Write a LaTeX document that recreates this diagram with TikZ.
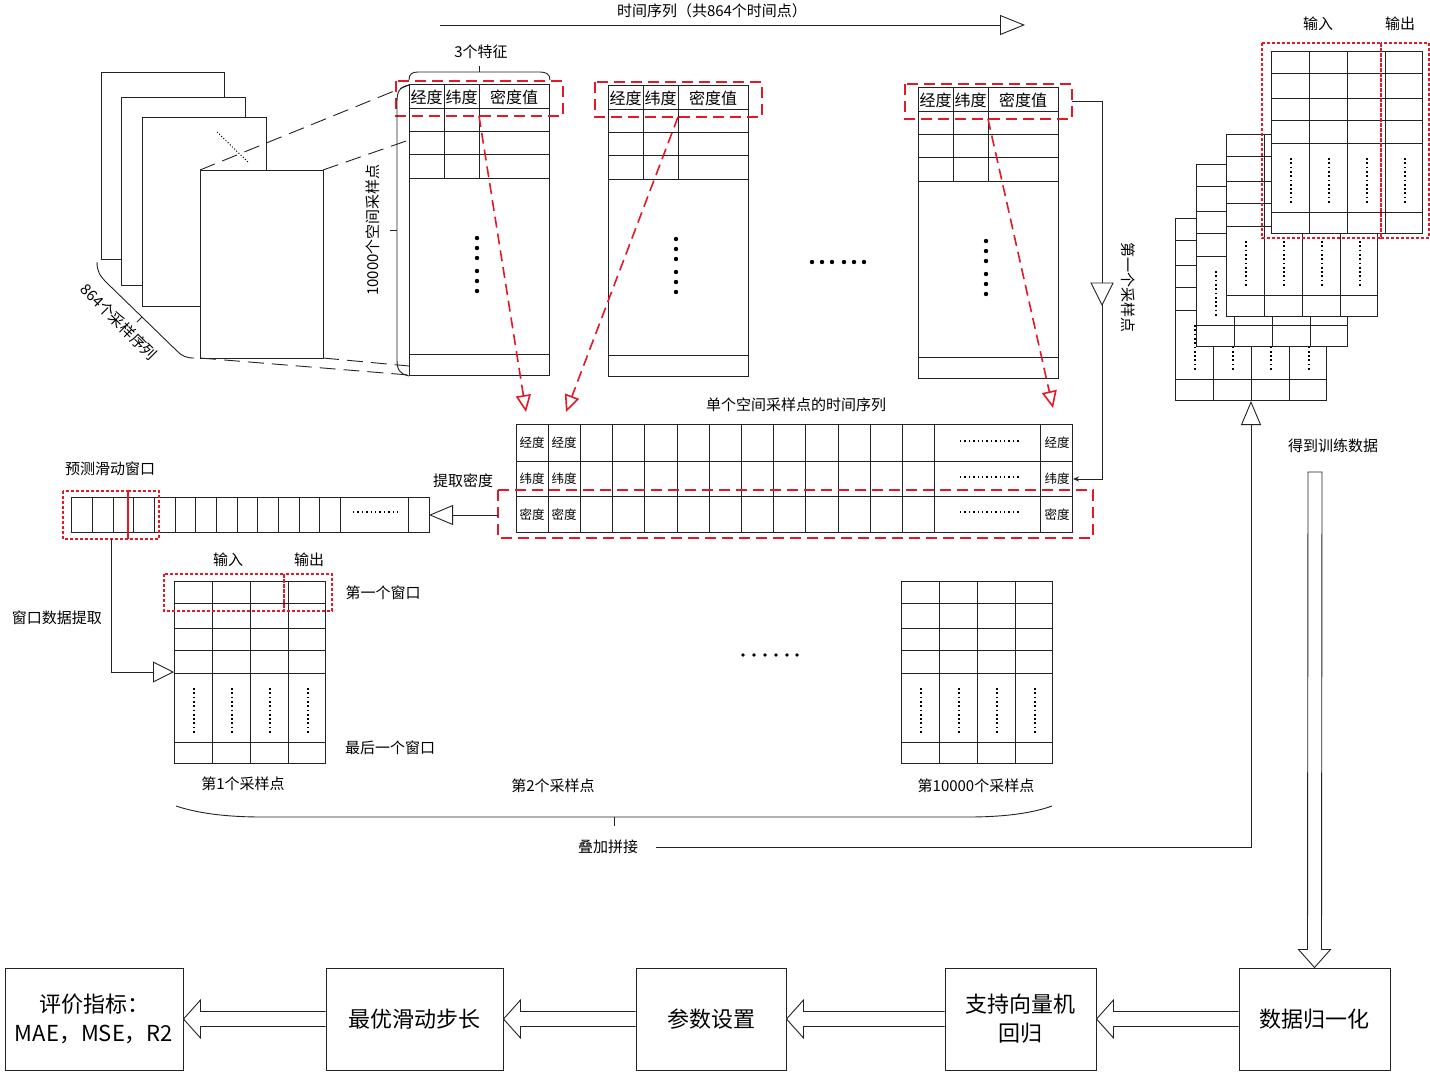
\documentclass[tikz,border=0pt]{standalone}
\usepackage{fontspec}
\setmainfont{Noto Sans CJK SC}
\usetikzlibrary{arrows.meta,calc}
\definecolor{rd}{RGB}{225,25,40}
\definecolor{ln}{RGB}{35,35,35}
\tikzset{
 tl/.style={draw=ln, line width=0.9pt},
 lbl/.style={inner sep=0pt, font=\fontsize{15}{18}\selectfont},
 hd/.style={inner sep=0pt, font=\fontsize{16}{18}\selectfont},
 sm/.style={inner sep=0pt, font=\fontsize{12.5}{14}\selectfont},
 big/.style={draw=ln, line width=1pt, fill=white, inner sep=0pt, font=\fontsize{22}{29}\selectfont, align=center, minimum height=102pt},
 rdash/.style={draw=rd, line width=1.8pt, dash pattern=on 11pt off 6pt},
 rdot/.style={draw=rd, line width=1.5pt, dash pattern=on 3pt off 2pt},
 gdash/.style={draw=ln, line width=0.9pt, dash pattern=on 16pt off 8pt},
 otri/.style={-{Triangle[open,length=24pt,width=20pt]}},
 rarrow/.style={rdash, line width=1.6pt, -{Triangle[open,length=17pt,width=15pt]}},
 vdot/.style={draw=black, line width=1.7pt, dash pattern=on 1.7pt off 2.6pt},
 hdot/.style={draw=black, line width=1.4pt, dash pattern=on 1.4pt off 3pt},
}
\newcommand{\wtab}[3]{%
\begin{scope}[shift={(#1,#2)}]
\coordinate (#3) at (0,0);
\coordinate (#3-s) at (76,182);
\draw[tl,fill=white] (0,0) rectangle (151,182);
\foreach \yy in {22,47,69,92,161}{\draw[tl] (0,\yy)--(151,\yy);}
\foreach \xx in {38,76,114}{\draw[tl] (\xx,0)--(\xx,182);}
\foreach \xx in {20,58,96,134}{\draw[vdot] (\xx,107)--(\xx,152);}
\end{scope}}
\newcommand{\ttab}[3]{%
\begin{scope}[shift={(#1,#2)}]
\coordinate (#3) at (0,0);
\coordinate (#3-r) at (70,32);
\coordinate (#3-e) at (154,14.5);
\draw[tl] (0,0) rectangle (140,291);
\foreach \yy in {24,47,70,94,270}{\draw[tl] (0,\yy)--(140,\yy);}
\draw[tl] (35,0)--(35,94) (70,0)--(70,94);
\node[hd] (#3-a) at (17.5,13) {经度};
\node[hd] (#3-b) at (52.5,13) {纬度};
\node[hd] (#3-c) at (105,13) {密度值};
\foreach \yy in {154,164,174,187,197,207}{\fill (68,\yy) circle (2.2pt);}
\draw[rdash] (-13,-3) rectangle (154,32);
\end{scope}}
\newcommand{\harrow}[2]{%
\draw[tl, fill=white] let \p1=(#1.west), \p2=(#2.east) in
 (\x1,\y1+7.5pt) -- (\x2+17pt,\y1+7.5pt) -- (\x2+17pt,\y1+19pt) -- (\x2,\y1) -- (\x2+17pt,\y1-19pt) -- (\x2+17pt,\y1-7.5pt) -- (\x1,\y1-7.5pt);}
\begin{document}
\begin{tikzpicture}[x=1pt,y=-1pt]
\useasboundingbox (0,0) rectangle (1430,1072);
\fill[white] (0,0) rectangle (1430,1072);

% ---- top time arrow
\coordinate (ta) at (440,25);
\coordinate (tb) at (1025,25);
\draw[tl, -{Triangle[open,length=25pt,width=20pt]}] (ta) -- (tb);
\node[lbl] (tt) at (712,11) {时间序列（共864个时间点）};

% ---- page stack
\draw[tl,fill=white] (101,72) rectangle (224,259);
\draw[tl,fill=white] (121,97) rectangle (245,285);
\draw[tl,fill=white] (142,117) rectangle (266,306);
\draw[black, line width=1pt, dotted] (217,132) -- (249,163);
\draw[tl,fill=white] (200,170) rectangle (323,358);
\coordinate (pA) at (200,170);
\coordinate (pB) at (323,170);
\coordinate (pC) at (200,358);
\coordinate (pD) at (323,358);
\draw[tl] (97,262) .. controls (97,272) and (100,276) .. (107,283) -- (177,351) .. controls (182,356) and (186,358) .. (194,358);
\draw[tl] (142,317) -- (137,322);
\node[lbl, rotate=-45] (n864) at (119,322) {864个采样序列};

% ---- tall tables
\ttab{409}{84}{T1}
\ttab{608}{85}{T2}
\ttab{918}{87}{T3}
\draw[gdash] (pA) -- (409,85);
\draw[gdash] (pB) -- (409,140);
\draw[gdash] (pC) -- (409,375);
\draw[gdash] (pD) -- (409,366);
% brace left
\draw[tl] (409,85) .. controls (399,87) and (397,92) .. (397,102) -- (397,360) .. controls (397,370) and (400,374) .. (409,376);
\draw[tl] (397,230) -- (390,230);
\node[lbl, rotate=90] (n10000) at (373,230) {10000个空间采样点};
% brace top
\draw[tl] (409,80) .. controls (409,74) and (412,72) .. (418,72) -- (540,72) .. controls (546,72) and (550,74) .. (550,80);
\draw[tl] (479,72) -- (479,66);
\node[lbl] (n3) at (481,52) {3个特征};
% dots between
\foreach \xx in {812,822,832,844,854,864}{\fill (\xx,262) circle (2.2pt);}

% ---- long table
\node[lbl] (nts) at (796,405) {单个空间采样点的时间序列};
\draw[tl] (516,424) rectangle (1072,532);
\draw[tl] (516,461) -- (1072,461) (516,496) -- (1072,496);
\foreach \i in {1,...,13}{\draw[tl] ({516+32.2*\i},424) -- ++(0,108);}
\draw[tl] (1040,424) -- (1040,532);
\foreach \cx in {532,564}{
 \node[sm] at (\cx,443) {经度};
 \node[sm] at (\cx,479) {纬度};
 \node[sm] at (\cx,515) {密度};}
\node[sm] (L1) at (1057,443) {经度};
\node[sm] (L2) at (1057,479) {纬度};
\node[sm] (L3) at (1057,515) {密度};
\draw[hdot] (960,441) -- (1020,441);
\draw[hdot] (960,477) -- (1020,477);
\draw[hdot] (960,512) -- (1020,512);
\draw[rdash] (498,490) rectangle (1093,538);
\coordinate (rbw) at (498,515);
\coordinate (lt1) at (526,412);
\coordinate (lt2) at (566,412);
\coordinate (lt3) at (1053,408);
\coordinate (ltr) at (1073,479);
\draw[rarrow] (T1-r) -- (lt1);
\draw[rarrow] (T2-r) -- (lt2);
\draw[rarrow] (T3-r) -- (lt3);
% connector 第一个采样点
\draw[tl, -{Stealth[length=6pt,width=5pt]}] (T3-e) -- (1102,101.5) -- (1102,479) -- (ltr);
\draw[tl, fill=white] (1091,283) -- (1113,283) -- (1102,305) -- cycle;
\node[lbl, rotate=-90] (n1st) at (1128,287) {第一个采样点};

% ---- sliding strip
\node[lbl] (nwin) at (110,469) {预测滑动窗口};
\node[lbl] (nex) at (463,481) {提取密度};
\draw[tl] (71,497) rectangle (429,532);
\foreach \xx in {92,113,133,154,175,195,216,237,257,278,299,319,340,408}{\draw[tl] (\xx,497) -- (\xx,532);}
\draw[hdot] (353,512) -- (398,512);
\coordinate (se) at (429,515);
\draw[tl, otri] (rbw) -- (se);
\draw[rdot] (63,491) rectangle (128,539);
\draw[rdot] (128,491) rectangle (159,539);

% ---- window tables
\coordinate (ws) at (111,539);
\coordinate (we) at (174,672);
\draw[tl, -{Triangle[open,length=21pt,width=21pt]}] (ws) |- (we);
\node[lbl] (nwx) at (57,618) {窗口数据提取};
\wtab{174}{581}{W1}
\wtab{901}{581}{W2}
\draw[rdot] (164,574) rectangle (284,611);
\draw[rdot] (284,574) rectangle (332,611);
\node[lbl] (nin1) at (228,560) {输入};
\node[lbl] (nout1) at (309,560) {输出};
\node[lbl] (nfw) at (383,593) {第一个窗口};
\node[lbl] (nlw) at (390,748) {最后一个窗口};
\node[lbl] (np1) at (243,784) {第1个采样点};
\node[lbl] (np2) at (553,786) {第2个采样点};
\node[lbl] (np3) at (976,786) {第10000个采样点};
\foreach \xx in {743,754,765,776,787,797}{\fill (\xx,655) circle (1.8pt);}
\draw[tl] (176,806) .. controls (200,814) and (230,817) .. (262,817) -- (968,817) .. controls (1000,817) and (1030,814) .. (1052,806);
\draw[tl] (614,817) -- (614,826);
\node[lbl] (ndj) at (608,847) {叠加拼接};

% ---- stacked training tables
\wtab{1175}{218}{S4}
\wtab{1196}{164}{S3}
\wtab{1226}{134}{S2}
\wtab{1271}{51}{S1}
\draw[rdot] (1262,43) rectangle (1381,238);
\draw[rdot] (1381,43) rectangle (1429,238);
\node[lbl] (nin2) at (1318,24) {输入};
\node[lbl] (nout2) at (1400,24) {输出};
\coordinate (stk) at (1251,401);
\draw[tl, otri] ([xshift=18pt]ndj.east) -| (stk);
\node[lbl] (ntr) at (1333,446) {得到训练数据};

% ---- bottom process boxes
\node[big, minimum width=178pt] (b1) at (94,1019) {评价指标：\\MAE，MSE，R2};
\node[big, minimum width=177pt] (b2) at (414.5,1019) {最优滑动步长};
\node[big, minimum width=150pt] (b3) at (711,1019) {参数设置};
\node[big, minimum width=151pt] (b4) at (1020.5,1019) {支持向量机\\回归};
\node[big, minimum width=151pt] (b5) at (1314.5,1019) {数据归一化};
\harrow{b5}{b4}
\harrow{b4}{b3}
\harrow{b3}{b2}
\harrow{b2}{b1}
\draw[tl, fill=white] let \p1=(b5.north) in (1308,472) -- (1322,472) -- (\x1+7pt,\y1+18pt) -- (\x1+16pt,\y1+18pt) -- (\p1) -- (\x1-16pt,\y1+18pt) -- (\x1-7pt,\y1+18pt) -- cycle;
\end{tikzpicture}
\end{document}
